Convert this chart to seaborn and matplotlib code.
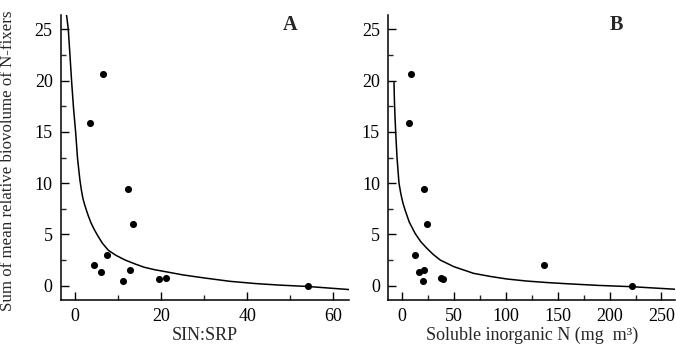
import matplotlib
matplotlib.use("Agg")
import matplotlib.pyplot as plt
import seaborn as sns
import pandas as pd
from matplotlib.ticker import MultipleLocator

# Panel A data (SIN:SRP)
a_x = [3.4, 6.5, 4.3, 6.1, 7.5, 12.2, 13.4, 11.2, 12.7, 19.5, 21.1, 54.1]
a_y = [15.9, 20.6, 2.0, 1.3, 3.0, 9.4, 6.0, 0.5, 1.5, 0.6, 0.7, 0.0]
# Panel B data (Soluble inorganic N)
b_x = [9.0, 7.1, 21.0, 24.2, 12.6, 16.8, 21.6, 20.6, 38.0, 39.3, 137.0, 221.4]
b_y = [20.6, 15.9, 9.4, 6.0, 3.0, 1.3, 1.5, 0.5, 0.7, 0.6, 2.0, 0.0]

# fitted curves
ca_x = [-2.0, -1.6, -1.2, -0.84, -0.4, 0.1, 0.55, 1.1, 1.45, 1.8, 2.2, 2.65,
        3.1, 3.7, 4.4, 5.2, 6.3, 7.7, 9.5, 11.6, 14.0, 16.0, 18.5, 20.9, 25.0,
        30.0, 36.0, 42.0, 47.6, 54.0, 63.6]
ca_y = [26.4, 25.0, 22.4, 20.0, 17.4, 15.0, 12.4, 10.3, 9.3, 8.5, 7.9, 7.3,
        6.75, 6.1, 5.5, 4.9, 4.15, 3.45, 2.95, 2.5, 2.1, 1.8, 1.55, 1.37, 1.05,
        0.75, 0.42, 0.2, 0.05, -0.08, -0.38]
cb_x = [-7.7, -7.3, -6.7, -6.1, -4.8, -2.9, -1.0, 0.8, 2.9, 7.0, 12.6, 18.0,
        23.9, 30.0, 36.8, 50.0, 69.0, 85.0, 101.0, 120.0, 140.0, 160.0, 190.0,
        221.0, 263.0]
cb_y = [19.8, 18.0, 16.4, 15.0, 12.5, 10.0, 8.9, 8.1, 7.4, 6.2, 5.1, 4.3,
        3.65, 3.05, 2.5, 1.85, 1.2, 0.9, 0.65, 0.45, 0.3, 0.18, 0.02,
        -0.1, -0.35]

y_ticks = [0, 5, 10, 15, 20, 25]
a_ticks = [0, 20, 40, 60]
b_ticks = [0, 50, 100, 150, 200, 250]

sns.set_style("ticks")
plt.rcParams["font.family"] = ["Liberation Serif", "DejaVu Serif"]
plt.rcParams["xtick.direction"] = "in"
plt.rcParams["ytick.direction"] = "in"

fig = plt.figure(figsize=(6.76, 3.49), dpi=100)
axA = fig.add_axes([0.0902, 0.1404, 0.426, 0.8166])
axB = fig.add_axes([0.5744, 0.1404, 0.4241, 0.8166])

dfA = pd.DataFrame({"x": a_x, "y": a_y})
dfB = pd.DataFrame({"x": b_x, "y": b_y})
cA = pd.DataFrame({"x": ca_x, "y": ca_y})
cB = pd.DataFrame({"x": cb_x, "y": cb_y})

for ax, df, cdf, xl, xt, xminor, lab, lablx in [
    (axA, dfA, cA, (-3.3, 63.6), a_ticks, 10, "SIN:SRP", "A"),
    (axB, dfB, cB, (-13.2, 263), b_ticks, 25, "Soluble inorganic N (mg  m\u00b3)", "B"),
]:
    sns.lineplot(data=cdf, x="x", y="y", ax=ax, sort=False, estimator=None,
                 color="black", linewidth=1.1)
    sns.scatterplot(data=df, x="x", y="y", ax=ax, color="black", s=26,
                    edgecolor="black", linewidth=0, zorder=3)
    ax.set_xlim(*xl)
    ax.set_ylim(-1.4, 26.4)
    ax.set_xticks(xt)
    ax.set_yticks(y_ticks)
    ax.xaxis.set_minor_locator(MultipleLocator(xminor))
    ax.yaxis.set_minor_locator(MultipleLocator(2.5))
    ax.tick_params(axis="both", which="major", direction="in", length=6, width=1,
                   labelsize=13, colors="black", pad=6)
    ax.tick_params(axis="both", which="minor", direction="in", length=3.5, width=1)
    for s in ["top", "right"]:
        ax.spines[s].set_visible(False)
    for s in ["left", "bottom"]:
        ax.spines[s].set_color("black")
        ax.spines[s].set_linewidth(1.1)
    ax.set_xlabel(lab, fontsize=13, labelpad=1)
    ax.set_ylabel("")
    ax.text(0.795, 0.965, lablx, transform=ax.transAxes, fontsize=14.5,
            fontweight="bold", ha="center", va="center")

axA.set_ylabel("Sum of mean relative biovolume of N-fixers", fontsize=12.2,
               labelpad=6)
axA.yaxis.set_label_coords(-0.155, 0.49)

fig.savefig("out.png", dpi=100)
